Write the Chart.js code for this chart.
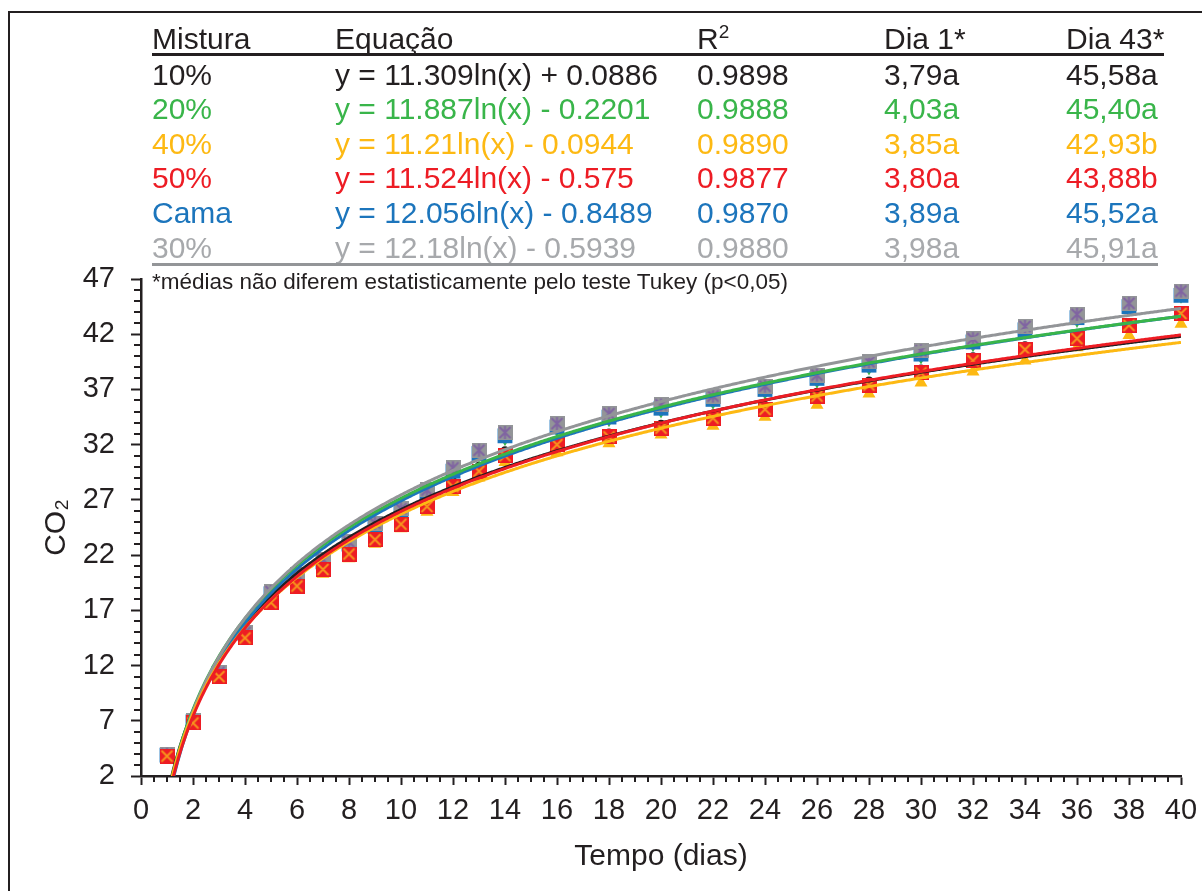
<!DOCTYPE html>
<html lang="pt">
<head>
<meta charset="utf-8">
<script src="https://cdn.jsdelivr.net/npm/chart.js@4.4.0/dist/chart.umd.min.js"></script>
<style>
  html, body { margin: 0; padding: 0; background: #fff; overflow: hidden; }
  #wrap { position: relative; width: 1202px; height: 891px; overflow: hidden; }
  #frame { position: absolute; left: 8px; top: 11px; width: 1400px; height: 1100px;
           border: 2.5px solid #231f20; box-sizing: border-box; }
  #chart { position: absolute; left: 0; top: 0; }
  .cell { position: absolute; font-family: 'Liberation Sans', Arial, sans-serif;
          font-size: 30px; line-height: 30px; white-space: nowrap; }
  .rule { position: absolute; }
  #note { position: absolute; left: 152px; top: 271px; font-family: 'Liberation Sans', Arial, sans-serif;
          font-size: 22.5px; line-height: 22px; color: #231f20; white-space: nowrap; }
</style>
</head>
<body>
<div id="wrap">
  <div id="frame"></div>
  <canvas id="chart" width="1202" height="891"></canvas>
  <div id="table"></div>
  <div id="note">*médias não diferem estatisticamente pelo teste Tukey (p&lt;0,05)</div>
</div>
<script>
// ---- dados ----
const days = [1, 2, 3, 4, 5, 6, 7, 8, 9, 10, 11, 12, 13, 14, 16, 18, 20, 22, 24, 26, 28, 30, 32, 34, 36, 38, 40];

const mixtures = ['10%', '20%', '40%', '50%', 'Cama', '30%'];
const equations = [
    'y = 11.309ln(x) + 0.0886',
    'y = 11.887ln(x) - 0.2201',
    'y = 11.21ln(x) - 0.0944',
    'y = 11.524ln(x) - 0.575',
    'y = 12.056ln(x) - 0.8489',
    'y = 12.18ln(x) - 0.5939'
];
const r2Values = ['0.9898', '0.9888', '0.9890', '0.9877', '0.9870', '0.9880'];
const day1Values = ['3,79a', '4,03a', '3,85a', '3,80a', '3,89a', '3,98a'];
const day43Values = ['45,58a', '45,40a', '42,93b', '43,88b', '45,52a', '45,91a'];

// coeficientes das regressões impressas na tabela
const slopes = [11.309, 11.887, 11.21, 11.524, 12.056, 12.18];
const intercepts = [0.0886, -0.2201, -0.0944, -0.575, -0.8489, -0.5939];

const co2_10 = [3.79, 7.0, 11.2, 14.8, 18.0, 19.6, 21.1, 22.6, 24.0, 25.4, 27.0, 28.7, 30.1, 31.5, 32.4, 33.1, 33.9, 34.8, 35.6, 36.8, 37.8, 38.9, 40.0, 41.0, 42.0, 43.1, 45.58];
const co2_20 = [4.03, 6.9, 11.2, 14.8, 18.3, 19.8, 21.2, 22.7, 24.4, 25.8, 27.4, 29.4, 31.0, 32.5, 33.3, 34.2, 35.0, 35.8, 36.7, 37.7, 38.9, 39.9, 41.0, 42.1, 43.2, 44.2, 45.40];
const co2_40 = [3.85, 6.6, 10.8, 14.2, 17.4, 18.9, 20.3, 21.7, 23.0, 24.4, 25.9, 27.7, 29.0, 30.4, 31.3, 32.1, 32.9, 33.7, 34.5, 35.6, 36.6, 37.6, 38.6, 39.6, 40.8, 41.9, 42.93];
const co2_50 = [3.80, 6.8, 11.0, 14.5, 17.7, 19.2, 20.7, 22.1, 23.4, 24.8, 26.4, 28.2, 29.6, 31.0, 32.0, 32.7, 33.5, 34.4, 35.2, 36.4, 37.4, 38.5, 39.6, 40.6, 41.6, 42.8, 43.88];
const co2_cama = [3.89, 6.9, 11.3, 14.9, 18.5, 20.0, 21.4, 23.0, 24.6, 26.0, 27.6, 29.6, 31.2, 32.8, 33.6, 34.5, 35.3, 36.1, 37.0, 38.0, 39.2, 40.2, 41.3, 42.4, 43.5, 44.5, 45.52];
const co2_30 = [3.98, 7.0, 11.4, 15.0, 18.7, 20.2, 21.6, 23.2, 24.9, 26.2, 27.9, 29.9, 31.5, 33.1, 33.9, 34.8, 35.6, 36.4, 37.3, 38.3, 39.5, 40.5, 41.6, 42.7, 43.8, 44.8, 45.91];
const seriesValues = [co2_10, co2_20, co2_40, co2_50, co2_cama, co2_30];

const xTicks = [0, 2, 4, 6, 8, 10, 12, 14, 16, 18, 20, 22, 24, 26, 28, 30, 32, 34, 36, 38, 40];
const yTicks = [2, 7, 12, 17, 22, 27, 32, 37, 42, 47];

// ---- estilo ----
const FONT = "'Liberation Sans', Arial, sans-serif";
const AXIS = '#231f20';
const lineColors = ['#231f20', '#39b54a', '#fdb913', '#ed1c24', '#1c75bc', '#939598'];
const textColors = ['#231f20', '#39b54a', '#fdb913', '#ed1c24', '#1c75bc', '#a7a9ac'];

// marcadores desenhados em canvas pequenos
function squareMarker(fill, stroke, star) {
    const s = 15;
    const c = document.createElement('canvas');
    c.width = s; c.height = s;
    const g = c.getContext('2d');
    g.fillStyle = fill;
    g.fillRect(0, 0, s, s);
    g.strokeStyle = stroke;
    g.lineWidth = 2;
    g.beginPath();
    g.moveTo(2, 2); g.lineTo(s - 2, s - 2);
    g.moveTo(s - 2, 2); g.lineTo(2, s - 2);
    if (star) { g.moveTo(s / 2, 1); g.lineTo(s / 2, s - 1); }
    g.stroke();
    return c;
}

const markers = [
    { pointStyle: 'circle', pointRadius: 4, rotation: 0 },
    { pointStyle: 'triangle', pointRadius: 7, rotation: 180 },
    { pointStyle: 'triangle', pointRadius: 7.5, rotation: 0 },
    { pointStyle: squareMarker('#ed1c24', '#f7941d', false), pointRadius: 7, rotation: 0 },
    { pointStyle: 'rect', pointRadius: 10.5, rotation: 0 },
    { pointStyle: squareMarker('#939598', '#8064a2', true), pointRadius: 7, rotation: 0 }
];
// ordem de desenho (menor = por cima)
const markerOrder = [15, 14, 12, 10, 13, 11];
const lineOrder = [6, 4, 2, 1, 5, 3];

// ---- tabela ----
const colX = [152, 335, 697, 884, 1066];
const table = document.getElementById('table');
function addCell(text, x, baseline, color, html) {
    const d = document.createElement('div');
    d.className = 'cell';
    d.style.left = x + 'px';
    d.style.top = (baseline - 25.4) + 'px';
    d.style.color = color;
    if (html) d.innerHTML = text; else d.textContent = text;
    table.appendChild(d);
}
function addRule(x, y, w, h, color) {
    const d = document.createElement('div');
    d.className = 'rule';
    d.style.cssText = `left:${x}px;top:${y}px;width:${w}px;height:${h}px;background:${color}`;
    table.appendChild(d);
}
const headers = ['Mistura', 'Equação', 'R<span style="font-size:19px;vertical-align:11px;line-height:0">2</span>', 'Dia 1*', 'Dia 43*'];
headers.forEach((h, i) => addCell(h, colX[i], 49.5, AXIS, true));
addRule(152, 53, 1012, 2.5, AXIS);
mixtures.forEach((m, r) => {
    const base = 85 + r * 34.6;
    const cols = [m, equations[r], r2Values[r], day1Values[r], day43Values[r]];
    cols.forEach((t, i) => addCell(t, colX[i], base, textColors[r], false));
});
addRule(152, 263, 1006, 2.5, '#939598');

// ---- conjuntos de dados ----
const datasets = [];
seriesValues.forEach((vals, i) => {
    datasets.push({
        type: 'scatter',
        label: mixtures[i],
        data: days.map((d, k) => ({ x: d, y: vals[k] })),
        backgroundColor: lineColors[i],
        borderWidth: 0,
        pointBorderWidth: 0,
        pointStyle: markers[i].pointStyle,
        pointRadius: markers[i].pointRadius,
        pointRotation: markers[i].rotation,
        showLine: false,
        clip: false,
        order: markerOrder[i]
    });
});
// curvas de regressão: y = a ln(x) + b
const curveX = [];
for (let x = 1; x <= 40.0001; x += 0.05) curveX.push(+x.toFixed(2));
slopes.forEach((a, i) => {
    datasets.push({
        type: 'line',
        label: mixtures[i] + ' ajuste',
        data: curveX.map(x => ({ x: x, y: a * Math.log(x) + intercepts[i] })),
        borderColor: lineColors[i],
        borderWidth: 3,
        pointRadius: 0,
        tension: 0,
        fill: false,
        clip: 0,
        order: lineOrder[i]
    });
});

// pequenos traços secundários nos eixos
const minorTicks = {
    id: 'minorTicks',
    afterDraw(chart) {
        const { ctx, scales: { x, y } } = chart;
        ctx.save();
        ctx.strokeStyle = AXIS;
        ctx.lineWidth = 2;
        ctx.beginPath();
        for (let v = 2; v <= 47; v++) {
            if (yTicks.includes(v)) continue;
            const py = Math.round(y.getPixelForValue(v));
            ctx.moveTo(x.left - 7, py);
            ctx.lineTo(x.left, py);
        }
        for (let v = 0; v <= 40; v += 0.5) {
            if (xTicks.includes(v)) continue;
            const px = Math.round(x.getPixelForValue(v));
            ctx.moveTo(px, y.bottom);
            ctx.lineTo(px, y.bottom + 6);
        }
        ctx.stroke();
        ctx.restore();
    }
};

new Chart(document.getElementById('chart').getContext('2d'), {
    type: 'scatter',
    data: { datasets: datasets },
    options: {
        responsive: false,
        animation: false,
        devicePixelRatio: 1,
        layout: { padding: { left: 0, right: 21, top: 279, bottom: 0 } },
        plugins: {
            legend: { display: false },
            tooltip: { enabled: false }
        },
        scales: {
            x: {
                type: 'linear',
                min: 0,
                max: 40,
                afterBuildTicks: (axis) => { axis.ticks = xTicks.map(v => ({ value: v })); },
                afterFit: (axis) => {
                    axis.height = 115;
                    axis.paddingLeft = 0;
                    axis.paddingRight = 0;
                },
                ticks: {
                    autoSkip: false,
                    maxRotation: 0,
                    padding: 9,
                    color: AXIS,
                    font: { family: FONT, size: 29 }
                },
                grid: { drawOnChartArea: false, tickLength: 9, tickWidth: 2, tickColor: AXIS },
                border: { color: AXIS, width: 2.5 },
                title: {
                    display: true,
                    text: 'Tempo (dias)',
                    color: AXIS,
                    font: { family: FONT, size: 30 },
                    padding: { top: 0, bottom: 16 }
                }
            },
            y: {
                type: 'linear',
                min: 2,
                max: 47,
                afterBuildTicks: (axis) => { axis.ticks = yTicks.map(v => ({ value: v })); },
                afterFit: (axis) => {
                    axis.width = 141;
                    axis.paddingTop = 0;
                    axis.paddingBottom = 0;
                },
                ticks: {
                    padding: 16,
                    color: AXIS,
                    font: { family: FONT, size: 29 }
                },
                grid: { drawOnChartArea: false, tickLength: 10, tickWidth: 2, tickColor: AXIS },
                border: { color: AXIS, width: 2.5 },
                title: {
                    display: true,
                    text: 'CO₂',
                    color: AXIS,
                    font: { family: FONT, size: 30 },
                    padding: { top: 39, bottom: 0 }
                }
            }
        }
    },
    plugins: [minorTicks]
});
</script>
</body>
</html>
